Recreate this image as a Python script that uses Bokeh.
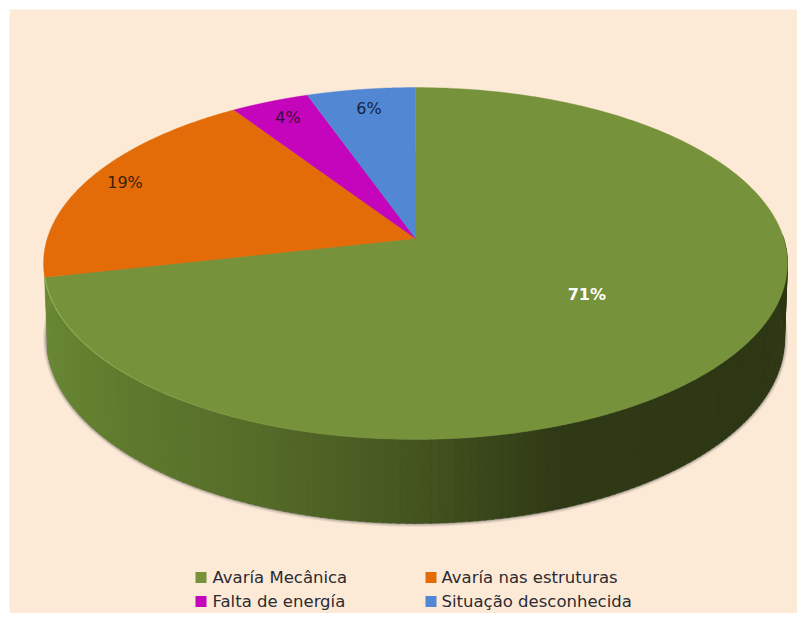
import numpy as np
from bokeh.plotting import figure
from bokeh.models import Range1d
from bokeh.core.properties import value
from bokeh.embed import file_html
from bokeh.resources import INLINE

# ---- data ----
categories = ["Avaría Mecânica", "Avaría nas estruturas", "Falta de energía", "Situação desconhecida"]
slice_shares = [71.5, 19.2, 3.9, 5.4]          # measured angular shares
slice_labels = ["71%", "19%", "4%", "6%"]
slice_colors = ["#76923b", "#e36c09", "#c405bb", "#5287d3"]
label_colors = ["#ffffff", "#3a2208", "#3a0a3a", "#14233f"]
label_bold = ["bold", "normal", "normal", "normal"]
label_radius = [0.50, 0.907, 0.87, 0.856]
label_nudge = [21, 5, 1, 1]

# ---- geometry / style ----
W, H = 797, 613
PAD = 9
BG = "#fdead6"
CX, CY = 415.0, 238.0
K, A, B = 0.142, 172.4, 368.2
LOW_X, LOW_CY, LOW_RY, TOP_CY, TOP_RY = 0.992, 338.0, 185.0, 263.0, 176.0


def project(u, v):
    d = 1 + K * np.asarray(v)
    return CX + B * np.asarray(u) / d, CY - A * np.asarray(v) / d


def lower(x, y):
    return CX + (x - CX) * LOW_X, LOW_CY + (y - TOP_CY) / TOP_RY * LOW_RY


p = figure(width=W, height=H, x_range=Range1d(PAD, W), y_range=Range1d(H, PAD),
           output_backend="svg", toolbar_location=None,
           min_border_left=PAD, min_border_top=PAD, min_border_right=0, min_border_bottom=0,
           background_fill_color=BG, border_fill_color="#ffffff", outline_line_color=None)
p.axis.visible = False
p.grid.visible = False

# full top outline
th = np.linspace(0, 2 * np.pi, 721)
ox, oy = project(np.sin(th), np.cos(th))
lx, ly = lower(ox, oy)

# soft shadow below the side wall
for grow, alpha in [(3.5, 0.10), (2.5, 0.14), (1.5, 0.20), (0.7, 0.28)]:
    p.patch(CX + (lx - CX) * (1 + grow / 369), LOW_CY + (ly - LOW_CY) * (1 + grow / 185),
            fill_color="#5a5a5a", fill_alpha=alpha, line_color=None)

# side wall: strips shaded from left to right
stop_x = [45, 120, 250, 415, 500, 560, 790]
stop_r = [0x68, 0x60, 0x56, 0x45, 0x38, 0x30, 0x2e]
stop_g = [0x87, 0x7b, 0x6d, 0x55, 0x44, 0x3a, 0x37]
stop_b = [0x33, 0x2e, 0x29, 0x20, 0x1a, 0x16, 0x14]
cum = np.cumsum(slice_shares) / np.sum(slice_shares)
side_start = 2 * np.pi * 0.25 - 0.02
side_end = 2 * np.pi * cum[0]
edges = np.linspace(side_start, side_end, 160)
sx, sy, sc = [], [], []
for a, b in zip(edges[:-1], edges[1:]):
    t = np.linspace(a, b + 0.004, 4)
    xt, yt = project(np.sin(t), np.cos(t))
    xb, yb = lower(xt, yt)
    sx.append(np.r_[xt, xb[::-1]])
    sy.append(np.r_[yt, yb[::-1]])
    xm = xt.mean()
    sc.append("#%02x%02x%02x" % (int(np.interp(xm, stop_x, stop_r)),
                                 int(np.interp(xm, stop_x, stop_g)),
                                 int(np.interp(xm, stop_x, stop_b))))
p.patches(sx, sy, fill_color=sc, line_color=sc, line_width=0.5)

# top slices
start = 0.0
for share, col in zip(slice_shares, slice_colors):
    frac = share / sum(slice_shares)
    t = 2 * np.pi * np.linspace(start, start + frac, 240)
    xa, ya = project(np.sin(t), np.cos(t))
    c0x, c0y = project(0.0, 0.0)
    p.patch(np.r_[c0x, xa], np.r_[c0y, ya], fill_color=col, line_color=col, line_width=0.4)
    start += frac

# light rim along the front-left edge of the top face
t = np.linspace(2 * np.pi * cum[0], np.pi, 50)
rx, ry = project(np.sin(t), np.cos(t))
p.multi_line([[rx[i], rx[i + 1]] for i in range(49)], [[ry[i], ry[i + 1]] for i in range(49)],
             line_color="#a0bd62", line_width=1.2,
             line_alpha=list(np.linspace(0.8, 0.0, 49)))

# slice labels
start = 0.0
for i, share in enumerate(slice_shares):
    frac = share / sum(slice_shares)
    mid = 2 * np.pi * (start + frac / 2)
    r = label_radius[i]
    x0, y0 = project(r * np.sin(mid), r * np.cos(mid))
    p.text([float(x0) + label_nudge[i]], [float(y0)], text=[slice_labels[i]],
           text_color=label_colors[i], text_font=value("DejaVu Sans"),
           text_font_size="16px", text_font_style=label_bold[i],
           text_align="center", text_baseline="middle")
    start += frac

# legend
col_sw = [195, 425]
col_tx = [212, 441]
row_y = [577, 601]
for i, name in enumerate(categories):
    c, r = i % 2, i // 2
    xs, yy = col_sw[c], row_y[r]
    p.quad(left=[xs], right=[xs + 11], top=[yy - 5.5], bottom=[yy + 5.5],
           fill_color=slice_colors[i], line_color=None)
    p.text([col_tx[c]], [yy], text=[name], text_color="#2b2b33",
           text_font=value("DejaVu Sans"), text_font_size="16.5px",
           text_align="left", text_baseline="middle")

open("out.html", "w").write(file_html(p, INLINE))
